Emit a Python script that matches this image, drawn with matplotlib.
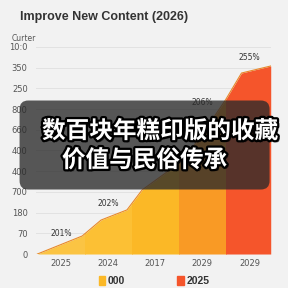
import matplotlib.pyplot as plt
import matplotlib.patheffects as pe
from matplotlib.patches import Rectangle, FancyBboxPatch, Patch
import numpy as np

# categories and values
categories = ['2025', '2024', '2017', '2029', '2029']
ytick_labels = ['0', '70', '180', '700', '400', '400', '660', '800', '250', '350', '10:0']
curve_x = [-0.5, 0.45, 0.85, 1.4, 1.72, 2.6, 3.06, 3.49, 3.83, 4.45]
curve_y = [0, 87, 164, 213, 309, 454, 599, 744, 874, 908]
band_colors = ['#FBC443', '#FCC034', '#FBB826', '#F99A25', '#F5552B']
note_x = [0, 1, 3, 4]
note_y = [97, 242, 734, 947]
note_text = ['201%', '202%', '206%', '255%']
legend_labels = ['000', '2025']
legend_colors = ['#FBB826', '#F5552B']

bg = '#F2F2F2'
fig = plt.figure(figsize=(2.88, 2.88), dpi=100, facecolor=bg)
ax = fig.add_axes([0.125, 0.118, 0.815, 0.719], facecolor=bg)

# area split into coloured bands, one per category
for i, c in enumerate(band_colors):
    poly = ax.fill_between(curve_x, curve_y, 0, color=c, lw=0)
    clip = Rectangle((i - 0.5, -10), 1, 1200, transform=ax.transData)
    poly.set_clip_path(clip)
ax.plot(curve_x, curve_y, color='#E8892A', lw=0.8)

for x, y, t in zip(note_x, note_y, note_text):
    ax.text(x, y, t, ha='center', va='center', fontsize=5.5, color='#333333')

ax.set_xlim(-0.53, 4.45)
ax.set_ylim(0, 1000)
ax.set_xticks(range(len(categories)))
ax.set_xticklabels(categories)
ax.set_yticks(np.arange(0, 1001, 100))
ax.set_yticklabels(ytick_labels)
ax.tick_params(length=0, labelsize=6, colors='#555555')
ax.tick_params(axis='x', pad=3.5)
ax.tick_params(axis='y', pad=6)
ax.grid(axis='y', color='#E2E2E2', lw=0.7)
ax.set_axisbelow(True)
for s in ax.spines.values():
    s.set_visible(False)

fig.text(0.07, 0.94, 'Improve New Content (2026)', fontsize=9, fontweight='bold',
         color='#333333', family='Liberation Sans', va='center')
fig.text(0.04, 0.865, 'Curter', fontsize=5.5, color='#555555', va='center')

handles = [Patch(color=c) for c in legend_colors]
fig.legend(handles, legend_labels, loc='center', bbox_to_anchor=(0.535, 0.025), ncol=2,
           frameon=False, handlelength=0.65, handleheight=0.9, handletextpad=0.25,
           columnspacing=5.0, prop={'weight': 'bold', 'size': 7.5, 'family': 'Liberation Sans'},
           labelcolor='#333333')

# dark caption box over the chart
box = FancyBboxPatch((0.068, 0.342), 0.868, 0.309, boxstyle='round,pad=0,rounding_size=0.03',
                     transform=fig.transFigure, facecolor='#2a2a2a', alpha=0.78, lw=0)
fig.patches.append(box)
fx = [pe.withSimplePatchShadow(offset=(1.5, -1.5), shadow_rgbFace='black', alpha=0.6),
      pe.Stroke(linewidth=3.2, foreground='black'), pe.Normal()]
fig.text(0.146, 0.545, '数百块年糕印版的收藏', fontsize=17, fontweight='bold', color='white',
         family=['Noto Sans CJK SC', 'DejaVu Sans'], va='center', path_effects=fx)
fig.text(0.215, 0.444, '价值与民俗传承', fontsize=17, fontweight='bold', color='white',
         family=['Noto Sans CJK SC', 'DejaVu Sans'], va='center', path_effects=fx)

fig.savefig('out.png', dpi=100, facecolor=bg)
